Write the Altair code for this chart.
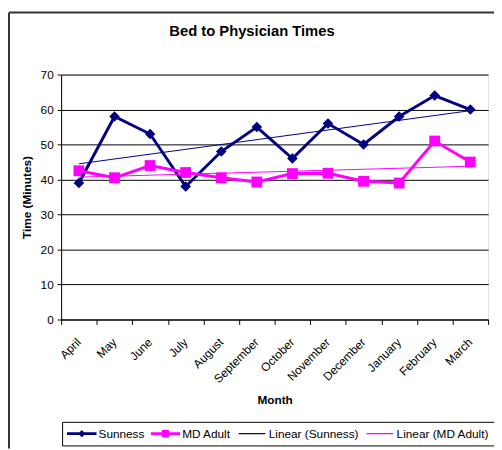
import json
import altair as alt
import pandas as pd

months = ["April", "May", "June", "July", "August", "September", "October",
          "November", "December", "January", "February", "March"]
sunness = [39, 58, 53, 38, 48, 55, 46, 56, 50, 58, 64, 60]
md_adult = [42.5, 40.5, 44, 42, 40.5, 39.3, 41.7, 41.8, 39.5, 39, 51, 45]
series_names = ["Sunness", "MD Adult"]
legend_names = ["Sunness", "MD Adult", "Linear (Sunness)", "Linear (MD Adult)"]
colors = ["#000080", "#FF00FF", "#000080", "#FF00FF"]
y_ticks = [0, 10, 20, 30, 40, 50, 60, 70]

rows = []
for i, m in enumerate(months):
    rows.append({"month": m, "idx": i, "series": series_names[0], "value": sunness[i]})
    rows.append({"month": m, "idx": i, "series": series_names[1], "value": md_adult[i]})
df = pd.DataFrame(rows)

FONT = "Liberation Sans"

shape_expr = (
    "datum.value === 'Sunness' ? 'M-1,-0.1H1V0.1H-1Z M-0.25,0L0,-0.25L0.25,0L0,0.25Z' : "
    "datum.value === 'MD Adult' ? 'M-1,-0.1H1V0.1H-1Z M-0.24,-0.24H0.24V0.24H-0.24Z' : "
    "'M-0.9,-0.035H0.9V0.035H-0.9Z'"
)

legend = alt.Legend(
    orient="none", legendX=1, legendY=353, direction="horizontal", title=None,
    symbolSize=900, symbolStrokeWidth=0, labelFont=FONT, labelFontSize=12,
    labelColor="black", strokeColor="black", padding=5, columnPadding=6,
    labelOffset=2, clipHeight=14, symbolOpacity=1,
    symbolType=alt.ExprRef(expr=shape_expr),
)

color = alt.Color("series:N", scale=alt.Scale(domain=legend_names, range=colors), legend=legend)

x = alt.X(
    "month:N", sort=months, bandPosition=0.5,
    scale=alt.Scale(type="band", paddingInner=0, paddingOuter=0, domain=months),
    axis=alt.Axis(
        title="Month", titleFont=FONT, titleFontSize=12, titleFontWeight="bold",
        titleColor="black", titleY=81, titleBaseline="middle",
        labelFont=FONT, labelFontSize=12, labelColor="black", labelAngle=-45,
        labelAlign="right", labelBaseline="top", labelPadding=12, labelOffset=-4,
        tickBand="extent", tickSize=5, tickColor="black", domainColor="black",
        grid=False,
    ),
)
y = alt.Y(
    "value:Q",
    scale=alt.Scale(domain=[0, 70], nice=False, zero=True),
    axis=alt.Axis(
        title="Time (Minutes)", titleFont=FONT, titleFontSize=12, titleFontWeight="bold",
        titleColor="black", titleX=-35, titleBaseline="middle",
        values=y_ticks, labelFont=FONT, labelFontSize=12, labelColor="black",
        labelPadding=4, tickSize=4, tickColor="black", domainColor="black",
        grid=True, gridColor="black", gridWidth=1,
    ),
)

base = alt.Chart(df)

points = base.mark_point(filled=True, opacity=1).encode(
    x=x, y=y, color=color,
    shape=alt.Shape("series:N", scale=alt.Scale(domain=series_names, range=["diamond", "square"]), legend=None),
    size=alt.Size("series:N", scale=alt.Scale(domain=series_names, range=[115, 121]), legend=None),
)

lines = base.mark_line(strokeWidth=3).encode(x=x, y=y, color=color)

months_js = json.dumps(months)
trend = base.transform_regression(
    "idx", "value", groupby=["series"], method="linear"
).transform_calculate(
    month=f"{months_js}[datum.idx]",
    series="'Linear (' + datum.series + ')'",
).mark_line(strokeWidth=1).encode(x=x, y=y, color=color)

frame_data = alt.Data(values=[{"a": 1}])
frame_top = alt.Chart(frame_data).mark_rule(color="#333333", strokeWidth=2).encode(
    x=alt.value(-53), x2=alt.value(440), y=alt.value(-63))
frame_left = alt.Chart(frame_data).mark_rule(color="#333333", strokeWidth=2).encode(
    x=alt.value(-53), y=alt.value(-63), y2=alt.value(380))

chart = alt.layer(points, lines, trend, frame_top, frame_left).properties(
    width=434, height=249,
    title=alt.TitleParams("Bed to Physician Times", font=FONT, fontSize=15,
                          fontWeight="bold", color="black", anchor="middle",
                          frame="group", dx=-23, offset=-28),
    autosize=alt.AutoSizeParams(type="none"),
    padding={"left": 54, "top": 64, "right": 6, "bottom": 129},
).configure_view(stroke="#808080", strokeWidth=1).configure(background="white")

chart.save("out.html", embed_options={"renderer": "svg", "actions": False})
